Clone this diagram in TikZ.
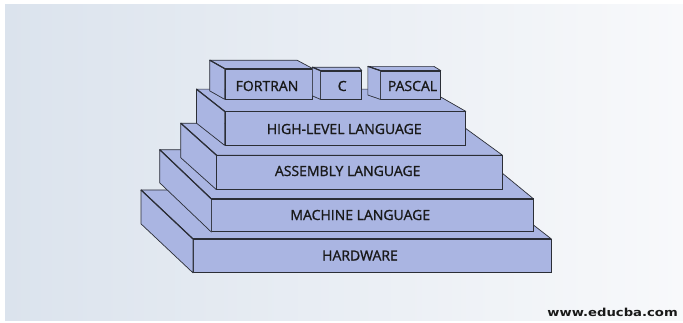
\documentclass[tikz,border=0pt]{standalone}
\usepackage{fontspec}
\setmainfont{Open Sans}
\newfontfamily\rotulo[FakeBold=1.2]{Open Sans}
\newfontfamily\webfont{DejaVu Sans}
\usetikzlibrary{calc}
\definecolor{lavanda}{RGB}{170,181,226}
\definecolor{trazo}{HTML}{2B2E36}
\definecolor{fondoA}{RGB}{219,227,237}
\definecolor{fondoB}{RGB}{248,249,251}
% caras superior e izquierda de un bloque cuyo frente es el nodo #1
% #2,#3: fondo del lado izquierdo, #4: fondo del lado derecho
\newcommand{\caras}[4]{%
  \filldraw[cara] (#1.north west) -- ++(-#2,-#3) -- ($(#1.north east)+(-#4,-#3)$) -- (#1.north east) -- cycle;
  \filldraw[cara] (#1.north west) -- ++(-#2,-#3) -- ($(#1.south west)+(-#2,-#3)$) -- (#1.south west) -- cycle;
  \draw[arista] (#1.north west) -- ++(-#2,-#3);
  \draw[arista] (#1.north west) -- (#1.north east);}

\begin{document}
\begin{tikzpicture}[x=1pt,y=-1pt,
      cara/.style={fill=lavanda,draw=trazo,line width=0.7pt,line join=round},
      arista/.style={draw=trazo,line width=1.2pt},
      frente/.style={rectangle,fill=lavanda,draw=trazo,line width=0.7pt,inner sep=0pt},
      txt/.style={inner sep=0pt,font=\rotulo\fontsize{14}{16}\selectfont,text=black!90}]
    \useasboundingbox (0,0) rectangle (683,322);
    \fill[white] (0,0) rectangle (683,322);
    \fill[left color=fondoA,right color=fondoB] (5,4) rectangle (683,320);
    % capas de la pila
    \node[frente,minimum width=357.7pt,minimum height=33.2pt] (hw) at (372.2,255.9) {};
    \caras{hw}{52}{49}{63}
    \node[txt] (hw-t) at (360,255.5) {HARDWARE};
    \node[frente,minimum width=321.6pt,minimum height=32.4pt] (maq) at (372.5,215.5) {};
    \caras{maq}{51.7}{49.3}{60}
    \node[txt] (maq-t) at (360.3,215) {MACHINE LANGUAGE};
    \node[frente,minimum width=285.3pt,minimum height=33.8pt] (ens) at (359.4,172.4) {};
    \caras{ens}{35.7}{32}{44}
    \node[txt] (ens-t) at (347.7,171) {ASSEMBLY LANGUAGE};
    \node[frente,minimum width=240.5pt,minimum height=33.3pt] (alto) at (345.3,128.4) {};
    \caras{alto}{28.3}{22.3}{39}
    \node[txt] (alto-t) at (344.2,129) {HIGH-LEVEL LANGUAGE};
    % lenguajes encima
    \node[frente,minimum width=87.5pt,minimum height=30pt] (fortran) at (268.8,84) {};
    \caras{fortran}{15}{8.5}{16}
    \node[txt] (fortran-t) at (267,86) {FORTRAN};
    \node[frente,minimum width=40.8pt,minimum height=28pt] (c) at (341.1,85) {};
    \caras{c}{8}{3.5}{3}
    \node[txt] (c-t) at (342.2,86) {C};
    \node[frente,minimum width=59.8pt,minimum height=28pt] (pascal) at (410.6,85) {};
    \caras{pascal}{12.5}{4.3}{7}
    \node[txt] (pascal-t) at (412.5,86) {PASCAL};
    \node[anchor=base east,font=\webfont\bfseries\fontsize{11}{13}\selectfont,
          xscale=1.2,text=black!90] (web) at (682,316.5) {www.educba.com};
  \end{tikzpicture}
\end{document}
